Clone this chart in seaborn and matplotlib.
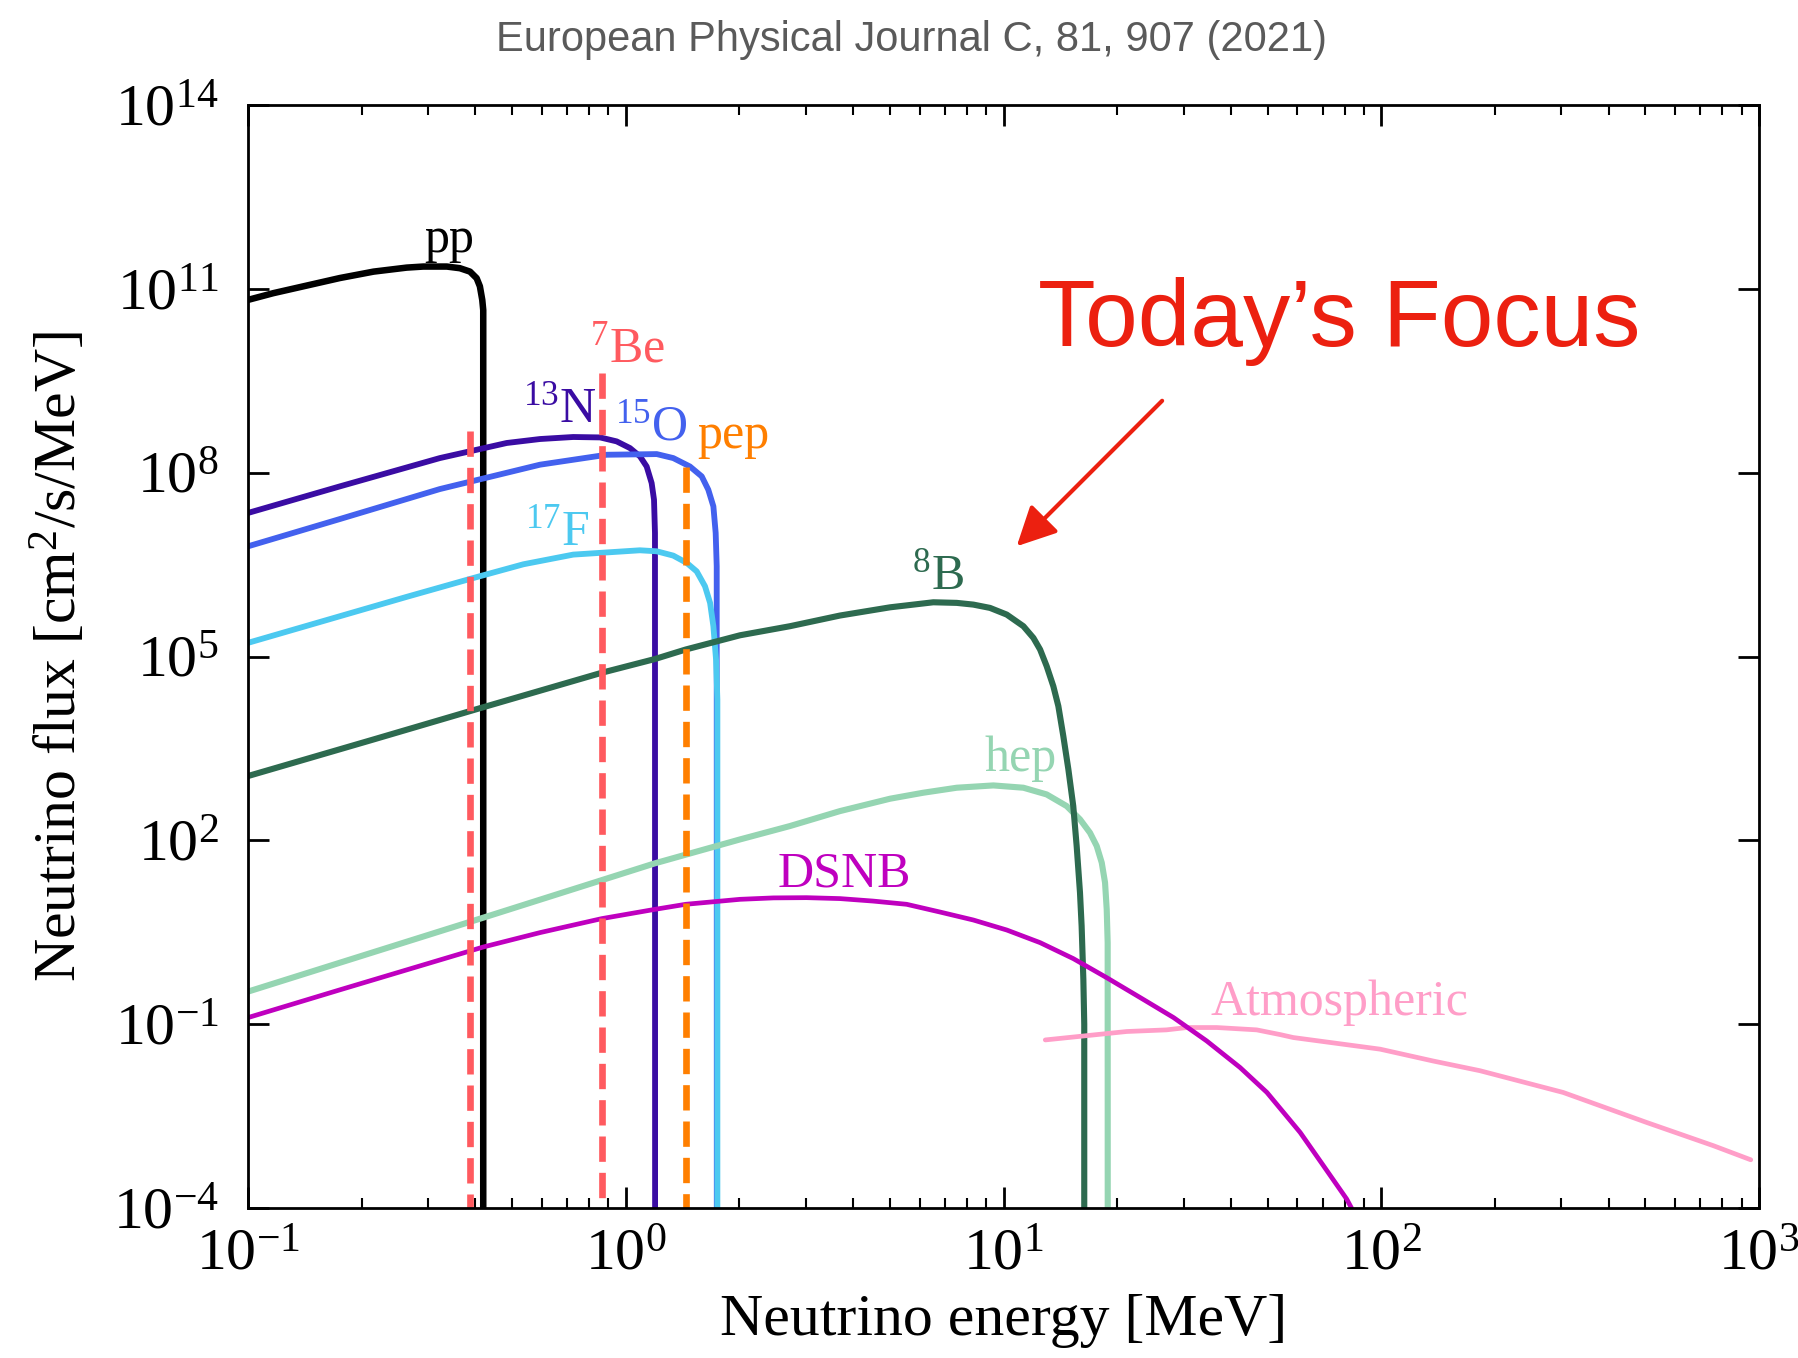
import matplotlib
matplotlib.use("Agg")
import matplotlib.pyplot as plt
import seaborn as sns
from matplotlib.ticker import FixedLocator, NullLocator, LogLocator, LogFormatterSciNotation

# Solar, diffuse supernova and atmospheric neutrino spectra
# energies in MeV, fluxes in cm^-2 s^-1 MeV^-1
pp_energy = [0.100, 0.1167, 0.143, 0.175, 0.215, 0.263, 0.291, 0.336, 0.364, 0.387,
             0.403, 0.411, 0.417, 0.4195, 0.4195]
pp_flux = [6.6e10, 8.5e10, 1.13e11, 1.5e11, 1.91e11, 2.22e11, 2.31e11, 2.31e11, 2.17e11, 1.91e11,
           1.49e11, 1.1e11, 6.6e10, 4.5e10, 1e-6]

n13_energy = [0.100, 0.175, 0.322, 0.484, 0.593, 0.726, 0.855, 0.946, 1.026, 1.091,
              1.136, 1.171, 1.188, 1.195, 1.196]
n13_flux = [2.2e7, 5.97e7, 1.73e8, 3.05e8, 3.54e8, 3.82e8, 3.76e8, 3.24e8, 2.52e8, 1.84e8,
            1.26e8, 6.76e7, 3.62e7, 1.04e7, 1e-6]

o15_energy = [0.100, 0.175, 0.322, 0.593, 0.890, 1.208, 1.336, 1.479, 1.589, 1.654,
              1.706, 1.730, 1.741, 1.742]
o15_flux = [6.28e6, 1.75e7, 5.4e7, 1.35e8, 1.96e8, 2.01e8, 1.73e8, 1.26e8, 8.7e7, 5.27e7,
            2.82e7, 1.04e7, 2.97e6, 1e-6]

f17_energy = [0.100, 0.175, 0.263, 0.395, 0.536, 0.726, 1.090, 1.208, 1.336, 1.450, 1.541,
              1.621, 1.672, 1.706, 1.734, 1.748, 1.748]
f17_flux = [1.67e5, 4.54e5, 9.4e5, 1.91e6, 3.2e6, 4.6e6, 5.41e6, 5.21e6, 4.43e6, 3.37e6, 2.45e6,
            1.4e6, 7.5e5, 3.12e5, 8.9e4, 1.99e4, 1e-6]

b8_energy = [0.100, 0.215, 0.420, 0.863, 1.195, 1.441, 2.007, 2.72, 3.69, 5.01, 6.52,
             7.52, 8.32, 9.21, 10.2, 11.29, 12.0, 12.5, 13.01, 13.55, 13.97, 14.40,
             14.85, 15.30, 15.62, 15.94, 16.1, 16.27, 16.36, 16.36]
b8_flux = [1.12e3, 4.43e3, 1.49e4, 5.42e4, 9.1e4, 1.3e5, 2.22e5, 3.12e5, 4.66e5, 6.35e5, 7.67e5,
           7.5e5, 7.03e5, 6.21e5, 4.83e5, 3.12e5, 2.01e5, 1.3e5, 6.95e4, 3.27e4, 1.55e4, 5.01e3,
           1.44e3, 362.0, 80.7, 14.0, 4.0, 0.54, 0.1, 1e-6]

hep_energy = [0.100, 0.420, 1.195, 2.007, 2.72, 3.69, 5.01, 6.13, 7.52, 9.40, 11.29, 13.01,
              14.70, 15.94, 16.94, 17.65, 18.2, 18.57, 18.76, 18.87, 18.88]
hep_flux = [0.34, 5.48, 42.2, 103.5, 171.0, 300.0, 478.0, 598.0, 722.0, 787.0, 722.0, 561.0,
            362.0, 220.0, 133.0, 80.7, 43.2, 20.4, 7.48, 2.14, 1e-6]

dsnb_energy = [0.100, 0.175, 0.420, 0.593, 0.863, 1.195, 1.441, 2.007, 2.46, 3.01, 3.69,
               4.52, 5.54, 6.79, 8.32, 10.2, 12.5, 15.3, 18.75, 23.0, 28.2, 34.5, 42.3,
               49.8, 61.0, 70.3, 81.0, 83.4]
dsnb_flux = [0.128, 0.363, 1.82, 3.12, 5.27, 7.48, 9.04, 10.9, 11.5, 11.6, 11.2,
             10.2, 9.04, 6.76, 5.01, 3.44, 2.14, 1.175, 0.575, 0.272, 0.128, 0.0533, 0.0196,
             7.7e-3, 1.71e-3, 4.9e-4, 1.4e-4, 1e-4]

atm_energy = [12.9, 21.2, 27.0, 30.6, 36.7, 46.8, 54.0, 58.5, 99.3, 137.0, 182.5, 303.0,
              504.0, 757.0, 951.0]
atm_flux = [0.0553, 0.0759, 0.0807, 0.0881, 0.0881, 0.0807, 0.0676, 0.0605, 0.0391, 0.0251,
            0.0174, 7.69e-3, 2.49e-3, 1.04e-3, 6.12e-4]

# monochromatic lines: energy and line height
be7_energy = [0.386, 0.863]
be7_flux = [4.7e8, 4.2e9]
pep_energy = [1.441]
pep_flux = [1.26e8]

x_ticks = [1e-1, 1e0, 1e1, 1e2, 1e3]
y_ticks = [1e-4, 1e-1, 1e2, 1e5, 1e8, 1e11, 1e14]

sns.set_theme(style="ticks")
plt.rcParams["font.family"] = ["Liberation Serif", "DejaVu Serif"]
plt.rcParams["mathtext.fontset"] = "custom"
plt.rcParams["mathtext.rm"] = "Liberation Serif"
plt.rcParams["mathtext.it"] = "Liberation Serif:italic"
plt.rcParams["mathtext.bf"] = "Liberation Serif:bold"
for key in ["axes.edgecolor", "xtick.color", "ytick.color", "text.color",
            "axes.labelcolor", "xtick.labelcolor", "ytick.labelcolor"]:
    plt.rcParams[key] = "black"

W, H = 1799, 1358
fig = plt.figure(figsize=(W / 100, H / 100), dpi=100)
fig.patch.set_facecolor("white")
ax = fig.add_axes([248 / W, 1 - 1208 / H, 1511 / W, 1103 / H])
ax.set_facecolor("white")
ax.set_xscale("log")
ax.set_yscale("log")

c_pp = "black"
c_n13 = "#3a0ca3"
c_o15 = "#4361ee"
c_f17 = "#4cc9f0"
c_b8 = "#2d6a4f"
c_hep = "#95d5b2"
c_dsnb = "#bf00bf"
c_atm = "#ff9ec8"
c_be7 = "#ff5a5f"
c_pep = "#ff7f00"

def curve(x, y, color, lw, **kw):
    sns.lineplot(x=x, y=y, ax=ax, color=color, lw=lw, sort=False, estimator=None,
                 solid_joinstyle="round", **kw)

curve(pp_energy, pp_flux, c_pp, 4.7)
curve(n13_energy, n13_flux, c_n13, 4.2)
curve(o15_energy, o15_flux, c_o15, 4.2)
curve(f17_energy, f17_flux, c_f17, 4.2)
curve(hep_energy, hep_flux, c_hep, 4.4)
curve(b8_energy, b8_flux, c_b8, 4.4)
curve(atm_energy, atm_flux, c_atm, 3.4)
curve(dsnb_energy, dsnb_flux, c_dsnb, 3.4)

dash = (0, (3.8, 1.65))
for e, top in zip(be7_energy, be7_flux):
    curve([e, e], [top, 1e-6], c_be7, 4.8, linestyle=dash, dash_capstyle="butt")
for e, top in zip(pep_energy, pep_flux):
    curve([e, e], [top, 1e-6], c_pep, 4.8, linestyle=dash, dash_capstyle="butt")

ax.set_xlim(1e-1, 1e3)
ax.set_ylim(1e-4, 1e14)
ax.xaxis.set_major_locator(FixedLocator(x_ticks))
ax.xaxis.set_minor_locator(LogLocator(base=10, subs=range(2, 10), numticks=50))
ax.yaxis.set_major_locator(FixedLocator(y_ticks))
ax.yaxis.set_minor_locator(NullLocator())
ax.xaxis.set_major_formatter(LogFormatterSciNotation())
ax.yaxis.set_major_formatter(LogFormatterSciNotation())

for s in ax.spines.values():
    s.set_linewidth(2.0)
    s.set_color("black")
ax.tick_params(which="both", direction="in", top=True, right=True)
ax.tick_params(which="major", length=15, width=2.0, labelsize=43)
ax.tick_params(axis="x", which="major", pad=15)
ax.tick_params(axis="y", which="major", pad=21)
ax.tick_params(which="minor", length=7.5, width=1.5)

ax.set_xlabel("Neutrino energy [MeV]", fontsize=43)
ax.set_ylabel("Neutrino flux [cm$^{2}$/s/MeV]", fontsize=43)
ax.xaxis.set_label_coords(0.5, -0.078)
ax.yaxis.set_label_coords(-0.105, 0.5)

lab = dict(fontsize=36, va="baseline")
ax.text(0.340, 4.0e11, "pp", color=c_pp, ha="center", **lab)
ax.text(0.804, 6.5e9, r"$^{7}$Be", color=c_be7, ha="left", **lab)
ax.text(0.534, 6.6e8, r"$^{13}$N", color=c_n13, ha="left", **lab)
ax.text(0.937, 3.45e8, r"$^{15}$O", color=c_o15, ha="left", **lab)
ax.text(1.544, 2.5e8, "pep", color=c_pep, ha="left", **lab)
ax.text(0.541, 6.7e6, r"$^{17}$F", color=c_f17, ha="left", **lab)
ax.text(5.71, 1.24e6, r"$^{8}$B", color=c_b8, ha="left", **lab)
ax.text(8.93, 1.345e3, "hep", color=c_hep, ha="left", **lab)
ax.text(2.519, 17.5, "DSNB", color=c_dsnb, ha="left", **lab)
ax.text(35.4, 0.14, "Atmospheric", color=c_atm, ha="left", **lab)

red = "#ec2010"
ax.text(12.34, 1.17e10, "Today\u2019s Focus", color=red, fontsize=68,
        family=["Liberation Sans", "DejaVu Sans"], ha="left", va="baseline")
ax.annotate("", xy=(10.84, 6.3e6), xytext=(26.3, 1.49e9),
            arrowprops=dict(arrowstyle="-|>", color=red, lw=3.0, mutation_scale=60,
                            shrinkA=0, shrinkB=0))

fig.text(912 / W, 1 - 50.7 / H, "European Physical Journal C, 81, 907 (2021)",
         ha="center", va="baseline", fontsize=30, color="#5a5a5a",
         family=["Liberation Sans", "DejaVu Sans"])

fig.savefig("out.png", dpi=100, facecolor="white")
